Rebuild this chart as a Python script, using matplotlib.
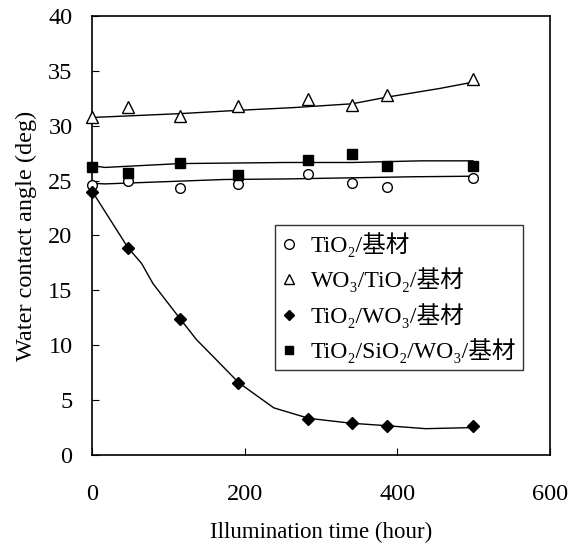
import matplotlib
matplotlib.use('Agg')
import matplotlib.pyplot as plt
from matplotlib.lines import Line2D

plt.rcParams['font.family'] = ['Liberation Serif', 'DejaVu Serif', 'Noto Sans CJK JP']

# measured points (hours vs contact angle)
hours = [0, 47, 115, 191, 283, 341, 386, 499]
tio2 = [24.6, 25.0, 24.3, 24.7, 25.6, 24.8, 24.4, 25.2]
wo3_tio2 = [30.8, 31.7, 30.9, 31.8, 32.4, 31.9, 32.8, 34.3]
tio2_wo3 = [24.0, 18.9, 12.4, 6.6, 3.3, 2.9, 2.6, 2.6]
tio2_sio2_wo3 = [26.2, 25.7, 26.6, 25.5, 26.9, 27.4, 26.3, 26.3]

# trend lines
fit_tio2_x = [0, 17, 115, 173, 253, 421, 499]
fit_tio2_y = [24.75, 24.7, 24.95, 25.1, 25.15, 25.35, 25.4]
fit_wo3_tio2_x = [0, 115, 191, 264, 341, 386, 456, 499]
fit_wo3_tio2_y = [30.75, 31.1, 31.4, 31.65, 32.0, 32.6, 33.4, 33.97]
fit_tio2_wo3_x = [0, 47, 65, 80, 116, 137, 159, 192, 238, 284, 339, 386, 437, 499]
fit_tio2_wo3_y = [24.05, 18.9, 17.45, 15.6, 12.36, 10.5, 8.95, 6.6, 4.3, 3.34, 2.9, 2.67, 2.4, 2.5]
fit_sio2_x = [0, 17, 115, 253, 341, 430, 499]
fit_sio2_y = [26.35, 26.2, 26.55, 26.65, 26.65, 26.8, 26.8]

labels = ['TiO\u2082/基材', 'WO\u2083/TiO\u2082/基材', 'TiO\u2082/WO\u2083/基材',
          'TiO\u2082/SiO\u2082/WO\u2083/基材']

fig = plt.figure(figsize=(5.69, 5.5), dpi=100)
ax = fig.add_axes([0.1617, 0.1727, 0.805, 0.7983])

lw = 1.0
ax.plot(fit_tio2_x, fit_tio2_y, color='black', lw=lw)
ax.plot(fit_wo3_tio2_x, fit_wo3_tio2_y, color='black', lw=lw)
ax.plot(fit_tio2_wo3_x, fit_tio2_wo3_y, color='black', lw=lw)
ax.plot(fit_sio2_x, fit_sio2_y, color='black', lw=lw)

ax.plot(hours, tio2, 'o', ms=7, mfc='white', mec='black', mew=1.0, clip_on=False, zorder=3)
ax.plot(hours, wo3_tio2, '^', ms=8, mfc='white', mec='black', mew=1.0, clip_on=False, zorder=3)
ax.plot(hours, tio2_wo3, 'D', ms=6, mfc='black', mec='black', clip_on=False, zorder=3)
ax.plot(hours, tio2_sio2_wo3, 's', ms=7, mfc='black', mec='black', clip_on=False, zorder=3)

ax.set_xlim(0, 600)
ax.set_ylim(0, 40)
ax.set_xticks([0, 200, 400, 600])
ax.set_yticks(range(0, 41, 5))
ax.tick_params(direction='in', length=5, width=0.8, labelsize=17.5)
ax.tick_params(axis='y', pad=14)
ax.tick_params(axis='x', pad=21)
for s in ax.spines.values():
    s.set_linewidth(1.2)

ax.set_xlabel('Illumination time (hour)', fontsize=16.5, labelpad=12)
ax.set_ylabel('Water contact angle (deg)', fontsize=17.5, labelpad=8)

handles = [
    Line2D([], [], ls='none', marker='o', ms=7, mfc='white', mec='black'),
    Line2D([], [], ls='none', marker='^', ms=7, mfc='white', mec='black'),
    Line2D([], [], ls='none', marker='D', ms=5.5, mfc='black', mec='black'),
    Line2D([], [], ls='none', marker='s', ms=6, mfc='black', mec='black'),
]
leg = ax.legend(handles, labels, loc='upper left', bbox_to_anchor=(0.40, 0.524),
                fontsize=17, frameon=True, fancybox=False, edgecolor='black',
                handlelength=0.6, handletextpad=0.6, borderpad=0.3,
                labelspacing=0.45, borderaxespad=0)
leg.get_frame().set_linewidth(1.0)

fig.savefig('out.png', dpi=100)
